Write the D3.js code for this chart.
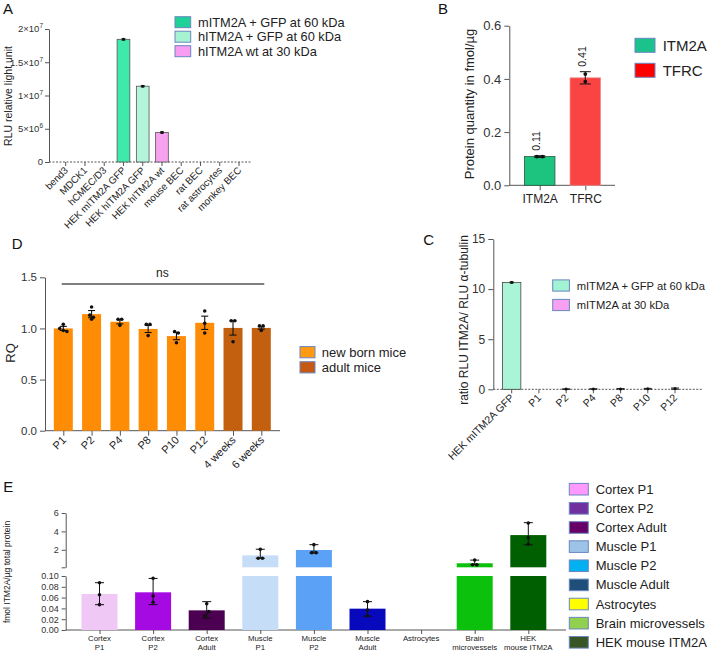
<!DOCTYPE html>
<html><head><meta charset="utf-8">
<script src="https://cdn.jsdelivr.net/npm/d3@7"></script>
<style>body{margin:0;background:#fff}svg{display:block;font-family:"Liberation Sans",Arial,sans-serif}</style>
</head><body><svg id="c" width="708" height="653"></svg>
<script>
// ---------- DATA ----------
// Panel A
const aCategories = ["bend3","MDCK1","hCMEC/D3","HEK mITM2A GFP","HEK hITM2A GFP","HEK hITM2A wt","mouse BEC","rat BEC","rat astrocytes","monkey BEC"];
const aValues = [0,0,0,1.845e7,1.14e7,4.45e6,0,0,0,0];
const aErrors = [0,0,0,1.2e5,1.0e5,1.0e5,0,0,0,0];
const aTicks = [0,5e6,1e7,1.5e7,2e7];
const aTickBase = ["0","5×10","1×10","1.5×10","2×10"];
const aTickExp = ["","6","7","7","7"];
const aLegend = ["mITM2A + GFP at 60 kDa","hITM2A  + GFP at 60 kDa","hITM2A wt at 30 kDa"];
// Panel B
const bCategories = ["ITM2A","TFRC"];
const bValues = [0.108,0.404];
const bErrors = [0.003,0.023];
const bPoints = [[0.108,0.108],[0.418,0.390]];
const bValueLabels = ["0.11","0.41"];
const bTicks = [0,0.2,0.4,0.6];
const bLegend = ["ITM2A","TFRC"];
// Panel C
const cCategories = ["HEK mITM2A GFP","P1","P2","P4","P8","P10","P12"];
const cValues = [10.67,0,0.02,0.03,0.04,0.05,0.07];
const cErrors = [0.06,0,0.02,0.02,0.03,0.04,0.06];
const cTicks = [0,5,10,15];
const cLegend = ["mITM2A + GFP at 60 kDa","mITM2A at 30 kDa"];
// Panel D
const dCategories = ["P1","P2","P4","P8","P10","P12","4 weeks","6 weeks"];
const dGroups = ["new","new","new","new","new","new","adult","adult"];
const dValues = [1.00,1.14,1.065,0.995,0.925,1.055,1.005,1.005];
const dErrors = [0.02,0.035,0.02,0.035,0.035,0.065,0.07,0.012];
const dPoints = [[1.04,1.00,0.98,0.97],[1.21,1.13,1.11,1.09],[1.09,1.09,1.03],[1.04,1.04,0.93],[0.97,0.955,0.86],[1.17,1.05,0.955],[1.075,1.075,0.87],[1.025,1.025,0.98]];
const dTicks = [0,0.5,1.0,1.5];
const dLegend = ["new born mice","adult mice"];
const dSignif = "ns";
// Panel E
const eCategories = ["Cortex P1","Cortex P2","Cortex Adult","Muscle P1","Muscle P2","Muscle Adult","Astrocytes","Brain microvessels","HEK mouse ITM2A"];
const eLabelLines = [["Cortex","P1"],["Cortex","P2"],["Cortex","Adult"],["Muscle","P1"],["Muscle","P2"],["Muscle","Adult"],["Astrocytes"],["Brain","microvessels"],["HEK","mouse ITM2A"]];
const eValues = [0.0667,0.0698,0.0364,1.40,1.98,0.0395,0,0.54,3.6];
const ePoints = [[0.0876,0.0654,0.0469],[0.0957,0.063,0.0513],[0.0487,0.0265,0.034],[2.05,1.08,1.08],[2.56,1.69,1.69],[0.0525,0.037,0.0265],[],[0.88,0.38,0.36],[4.9,3.3,2.6]];
const eErrLo = [0.0469,0.047,0.0216,1.08,1.65,0.0255,null,0.40,2.55];
const eErrHi = [0.0876,0.0955,0.0525,2.06,2.56,0.0525,null,0.88,4.95];
const eTicksLow = [0,0.02,0.04,0.06,0.08,0.10];
const eTicksHigh = [2,4,6];
const eLegend = ["Cortex P1","Cortex P2","Cortex Adult","Muscle P1","Muscle P2","Muscle Adult","Astrocytes","Brain microvessels","HEK mouse ITM2A"];

// ---------- STYLE ----------
const AX = "#555", TXT = "#222", LEGB = "#6a86c0";
const A_BAR = ["#3fe9a9","#3fe9a9","#3fe9a9","#3fe9a9","#b3f4db","#f6a2ee","#ccc","#ccc","#ccc","#ccc"];
const A_LEG = ["#1fd098","#a6f2d3","#f89df2"];
const B_BAR = ["#1dc47f","#fa4343"], B_BARSTROKE = ["#2a5a40","#f08a8a"], B_LEG = ["#1cc28c","#ff0000"];
const C_BAR = "#aaf5d8", C_LEG = ["#a2f3d4","#f7a0f2"];
const D_BAR = {new:"#ff8c05", adult:"#c2600f"}, D_LEG = ["#ff9a12","#c65911"];
const E_BAR = ["#f0c8f6","#a60ae3","#4b0052","#c6ddf8","#5ba2f7","#0808bd","#ffff00","#0cc10c","#005f00"];
const E_LEG = ["#ff99ff","#7030a0","#660066","#9dc3e6","#00b0f0","#1f4e79","#ffff00","#92d050","#375623"];

const svg = d3.select("#c");

function styleAxis(g){ g.select(".domain").attr("stroke",AX); g.selectAll(".tick line").attr("stroke",AX); g.selectAll(".tick text").attr("fill","#333").attr("font-family",null); }
function jitter(vals, y, gap){
  const py = vals.map(v=>y(v)), off = vals.map(()=>0), used = vals.map(()=>false);
  for(let i=0;i<vals.length;i++){ if(used[i]) continue; const grp=[i]; used[i]=true;
    for(let j=i+1;j<vals.length;j++){ if(!used[j] && Math.abs(py[j]-py[i])<gap){grp.push(j);used[j]=true;} }
    grp.forEach((k,m)=>off[k]=(m-(grp.length-1)/2)*gap); }
  return off;
}
function errBar(g, x, y1, y2, cap, w){
  g.append("line").attr("x1",x).attr("x2",x).attr("y1",y1).attr("y2",y2).attr("stroke","#111").attr("stroke-width",w||1);
  [y1,y2].forEach(y=>g.append("line").attr("x1",x-cap/2).attr("x2",x+cap/2).attr("y1",y).attr("y2",y).attr("stroke","#111").attr("stroke-width",w||1));
}
function letter(t,x,y){ svg.append("text").attr("x",x).attr("y",y).attr("font-size",15).attr("fill","#111").text(t); }

// ---------- PANEL A ----------
(function(){
  const g = svg.append("g");
  const x = d3.scalePoint().domain(aCategories).range([65.7,239]);
  const y = d3.scaleLinear().domain([0,2e7]).range([162,29]);
  const bw = x.step()*0.66;
  g.append("g").attr("transform","translate(49,0)").call(d3.axisLeft(y).tickValues(aTicks).tickSize(4).tickSizeOuter(0).tickFormat("")).call(styleAxis);
  aTicks.forEach((t,i)=>{ const tx=g.append("text").attr("x",43).attr("y",y(t)+3.3).attr("text-anchor","end").attr("font-size",9.5).attr("fill","#333");
    tx.append("tspan").text(aTickBase[i]); if(aTickExp[i]) tx.append("tspan").attr("dy",-4).attr("font-size",6.5).text(aTickExp[i]); });
  g.append("line").attr("x1",49).attr("x2",251).attr("y1",y(0)).attr("y2",y(0)).attr("stroke",AX).attr("stroke-dasharray","2,1.5");
  g.selectAll(".xt").data(aCategories).join("line").attr("x1",d=>x(d)).attr("x2",d=>x(d)).attr("y1",y(0)).attr("y2",y(0)+4).attr("stroke",AX);
  const data = aCategories.map((c,i)=>({c,v:aValues[i],e:aErrors[i],i})).filter(d=>d.v>0);
  g.selectAll(".bar").data(data).join("rect").attr("x",d=>x(d.c)-bw/2).attr("width",bw).attr("y",d=>y(d.v)).attr("height",d=>y(0)-y(d.v))
    .attr("fill",d=>A_BAR[d.i]).attr("stroke","#555").attr("stroke-width",0.8);
  data.forEach(d=>{ errBar(g,x(d.c),y(d.v+d.e),y(d.v-d.e),4,0.8); g.append("circle").attr("cx",x(d.c)).attr("cy",y(d.v)).attr("r",1.5).attr("fill","#111"); });
  g.selectAll(".xl").data(aCategories).join("text").attr("transform",d=>`translate(${x(d)+3},${y(0)+9}) rotate(-45)`)
    .attr("text-anchor","end").attr("font-size",9.8).attr("fill",TXT).text(d=>d);
  g.append("text").attr("transform","translate(12,96) rotate(-90)").attr("text-anchor","middle").attr("font-size",10.5).attr("fill",TXT).text("RLU relative light unit");
  const ly = d3.scalePoint().domain(aLegend).range([22.2,51.2]);
  aLegend.forEach((t,i)=>{ g.append("rect").attr("x",175).attr("y",ly(t)-5.5).attr("width",15.7).attr("height",11).attr("fill",A_LEG[i]).attr("stroke",LEGB);
    g.append("text").attr("x",198).attr("y",ly(t)+4.6).attr("font-size",12.8).attr("fill",TXT).text(t); });
  letter("A",3,14);
})();

// ---------- PANEL B ----------
(function(){
  const g = svg.append("g");
  const x = d3.scalePoint().domain(bCategories).range([539.7,585.3]);
  const y = d3.scaleLinear().domain([0,0.6]).range([185.3,25.7]);
  const bw = 30.5;
  g.append("g").attr("transform","translate(509.3,0)").call(d3.axisLeft(y).tickValues(bTicks).tickSize(5).tickSizeOuter(0).tickFormat(d3.format(".1f")))
    .call(styleAxis).call(a=>a.selectAll(".tick text").attr("font-size",13));
  g.append("g").attr("transform",`translate(0,${y(0)})`).call(d3.axisBottom(x).tickSize(5).tickSizeOuter(0).tickPadding(4)).call(styleAxis)
    .call(a=>{a.select(".domain").attr("d",`M509.3,0H615`); a.selectAll(".tick text").attr("font-size",12).attr("fill",TXT);});
  bCategories.forEach((c,i)=>{
    g.append("rect").attr("x",x(c)-bw/2).attr("width",bw).attr("y",y(bValues[i])).attr("height",y(0)-y(bValues[i])).attr("fill",B_BAR[i]).attr("stroke",B_BARSTROKE[i]).attr("stroke-width",0.8);
    errBar(g,x(c),y(bValues[i]+bErrors[i]),y(bValues[i]-bErrors[i]),11,1);
    const off = jitter(bPoints[i],y,5.5);
    bPoints[i].forEach((p,k)=>g.append("circle").attr("cx",x(c)+off[k]).attr("cy",y(p)).attr("r",1.9).attr("fill","#111"));
    g.append("text").attr("transform",`translate(${x(c)+0.5},${y(bValues[i]+bErrors[i])-5}) rotate(-90)`).attr("font-size",10.5).attr("fill",TXT).text(bValueLabels[i]);
  });
  g.append("text").attr("transform","translate(474,104) rotate(-90)").attr("text-anchor","middle").attr("font-size",13).attr("fill",TXT).text("Protein quantity in fmol/µg");
  const ly = d3.scalePoint().domain(bLegend).range([45.3,70.3]);
  bLegend.forEach((t,i)=>{ g.append("rect").attr("x",635).attr("y",ly(t)-7).attr("width",20).attr("height",14).attr("fill",B_LEG[i]).attr("stroke",LEGB);
    g.append("text").attr("x",662.7).attr("y",ly(t)+5.4).attr("font-size",15).attr("fill",TXT).text(t); });
  letter("B",438,14);
})();

// ---------- PANEL D ----------
(function(){
  const g = svg.append("g");
  const x = d3.scalePoint().domain(dCategories).range([63.3,261.3]);
  const y = d3.scaleLinear().domain([0,1.5]).range([430.7,277.3]);
  const bw = 19;
  g.append("g").attr("transform","translate(45,0)").call(d3.axisLeft(y).tickValues(dTicks).tickSize(5).tickSizeOuter(0).tickFormat(d3.format(".1f")))
    .call(styleAxis).call(a=>a.selectAll(".tick text").attr("font-size",11.5));
  g.append("g").attr("transform",`translate(0,${y(0)})`).call(d3.axisBottom(x).tickSize(5).tickSizeOuter(0).tickFormat("")).call(styleAxis)
    .call(a=>a.select(".domain").attr("d","M45,0H280"));
  dCategories.forEach((c,i)=>{
    g.append("rect").attr("x",x(c)-bw/2).attr("width",bw).attr("y",y(dValues[i])).attr("height",y(0)-y(dValues[i])).attr("fill",D_BAR[dGroups[i]]);
    errBar(g,x(c),y(dValues[i]+dErrors[i]),y(dValues[i]-dErrors[i]),7,1.1);
    const off = jitter(dPoints[i],y,3.6);
    dPoints[i].forEach((p,k)=>g.append("circle").attr("cx",x(c)+off[k]).attr("cy",y(p)).attr("r",1.8).attr("fill","#111"));
  });
  g.selectAll(".xl").data(dCategories).join("text").attr("transform",d=>`translate(${x(d)+3.5},${y(0)+10}) rotate(-45)`)
    .attr("text-anchor","end").attr("font-size",11).attr("fill",TXT).text(d=>d);
  g.append("line").attr("x1",x(dCategories[0])-1.6).attr("x2",x(dCategories[7])+3).attr("y1",284).attr("y2",284).attr("stroke","#555").attr("stroke-width",1.4);
  g.append("text").attr("x",(x(dCategories[0])+x(dCategories[7]))/2).attr("y",277).attr("text-anchor","middle").attr("font-size",12).attr("fill",TXT).text(dSignif);
  g.append("text").attr("transform","translate(15,353) rotate(-90)").attr("text-anchor","middle").attr("font-size",13).attr("fill",TXT).text("RQ");
  const ly = d3.scalePoint().domain(dLegend).range([352.2,367.3]);
  dLegend.forEach((t,i)=>{ g.append("rect").attr("x",300).attr("y",ly(t)-5.6).attr("width",15).attr("height",11.2).attr("fill",D_LEG[i]).attr("stroke",LEGB);
    g.append("text").attr("x",321.7).attr("y",ly(t)+4.6).attr("font-size",13).attr("fill",TXT).text(t); });
  letter("D",11.7,249);
})();

// ---------- PANEL C ----------
(function(){
  const g = svg.append("g");
  const x = d3.scalePoint().domain(cCategories).range([511.7,675]);
  const y = d3.scaleLinear().domain([0,15]).range([389.3,239]);
  const bw = 18.3;
  g.append("g").attr("transform","translate(493.3,0)").call(d3.axisLeft(y).tickValues(cTicks).tickSize(5).tickSizeOuter(0))
    .call(styleAxis).call(a=>a.selectAll(".tick text").attr("font-size",12));
  g.append("line").attr("x1",493.3).attr("x2",701.7).attr("y1",y(0)).attr("y2",y(0)).attr("stroke",AX).attr("stroke-dasharray","2,1.5");
  g.selectAll(".xt").data(cCategories).join("line").attr("x1",d=>x(d)).attr("x2",d=>x(d)).attr("y1",y(0)).attr("y2",y(0)+4).attr("stroke",AX);
  cCategories.forEach((c,i)=>{
    if(i===0){ g.append("rect").attr("x",x(c)-bw/2).attr("width",bw).attr("y",y(cValues[i])).attr("height",y(0)-y(cValues[i])).attr("fill",C_BAR).attr("stroke","#444").attr("stroke-width",0.8); }
    if(cValues[i]>0){ errBar(g,x(c),y(cValues[i]+cErrors[i]),y(Math.max(0,cValues[i]-cErrors[i])),i===0?4:8,0.9);
      g.append("circle").attr("cx",x(c)).attr("cy",y(cValues[i])).attr("r",1.5).attr("fill","#111"); }
  });
  g.selectAll(".xl").data(cCategories).join("text").attr("transform",d=>`translate(${x(d)+3},${y(0)+9}) rotate(-45)`)
    .attr("text-anchor","end").attr("font-size",10.5).attr("fill",TXT).text(d=>d);
  g.append("text").attr("transform","translate(468,320) rotate(-90)").attr("text-anchor","middle").attr("font-size",12).attr("fill",TXT).text("ratio RLU ITM2A/ RLU α-tubulin");
  const ly = d3.scalePoint().domain(cLegend).range([285.5,305]);
  cLegend.forEach((t,i)=>{ g.append("rect").attr("x",552.7).attr("y",ly(t)-5.6).attr("width",16.7).attr("height",11.2).attr("fill",C_LEG[i]).attr("stroke",LEGB);
    g.append("text").attr("x",576.7).attr("y",ly(t)+4).attr("font-size",11.2).attr("fill",TXT).text(t); });
  letter("C",423.3,245);
})();

// ---------- PANEL E ----------
(function(){
  const g = svg.append("g");
  const x = d3.scalePoint().domain(eCategories).range([99.5,528.3]);
  const yL = d3.scaleLinear().domain([0,0.1]).range([630,576]);
  const yU = d3.scaleLinear().domain([0.1,6]).range([567.3,513]);
  const yy = v => v<=0.1 ? yL(v) : yU(v);
  const bw = 36;
  g.append("g").attr("transform","translate(65.7,0)").call(d3.axisLeft(yL).tickValues(eTicksLow).tickSize(4).tickSizeOuter(0).tickFormat(d3.format(".2f")))
    .call(styleAxis).call(a=>a.selectAll(".tick text").attr("font-size",9));
  g.append("g").attr("transform","translate(65.7,0)").call(d3.axisLeft(yU).tickValues([0.1].concat(eTicksHigh)).tickSize(4).tickSizeOuter(0).tickFormat(d=>d<1?"":d))
    .call(styleAxis).call(a=>a.selectAll(".tick text").attr("font-size",9));
  g.append("g").attr("transform",`translate(0,${yL(0)})`).call(d3.axisBottom(x).tickSize(4).tickSizeOuter(0).tickFormat("")).call(styleAxis)
    .call(a=>a.select(".domain").attr("d","M65.7,0H566"));
  eCategories.forEach((c,i)=>{
    const v = eValues[i];
    if(v>0){
      g.append("rect").attr("x",x(c)-bw/2).attr("width",bw).attr("y",yL(Math.min(v,0.1))).attr("height",yL(0)-yL(Math.min(v,0.1))).attr("fill",E_BAR[i]);
      if(v>0.1) g.append("rect").attr("x",x(c)-bw/2).attr("width",bw).attr("y",yU(v)).attr("height",yU(0.1)-yU(v)).attr("fill",E_BAR[i]);
    }
    if(eErrHi[i]!=null) errBar(g,x(c),yy(eErrHi[i]),yy(eErrLo[i]),9,1);
    const py = ePoints[i];
    const off = jitter(py,yy,4.2);
    py.forEach((p,k)=>g.append("circle").attr("cx",x(c)+off[k]).attr("cy",yy(p)).attr("r",1.8).attr("fill","#111"));
    eLabelLines[i].forEach((t,k)=>g.append("text").attr("x",x(c)).attr("y",641.2+k*8.8).attr("text-anchor","middle").attr("font-size",7.8).attr("fill",TXT).text(t));
  });
  g.append("text").attr("transform","translate(10,572) rotate(-90)").attr("text-anchor","middle").attr("font-size",8.5).attr("fill",TXT).text("fmol ITM2A/µg total protein");
  const ly = d3.scalePoint().domain(eLegend).range([489.2,642.3]);
  eLegend.forEach((t,i)=>{ g.append("rect").attr("x",569.3).attr("y",ly(t)-5.8).attr("width",19).attr("height",11.6).attr("fill",E_LEG[i]).attr("stroke",LEGB);
    g.append("text").attr("x",595.7).attr("y",ly(t)+4.6).attr("font-size",13).attr("fill",TXT).text(t); });
  letter("E",3.3,492);
})();
</script></body></html>
